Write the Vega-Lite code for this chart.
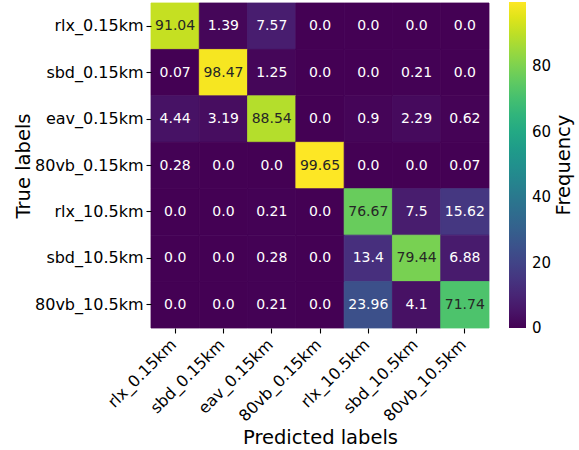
{
  "$schema": "https://vega.github.io/schema/vega-lite/v6.json",
  "width": 338,
  "height": 325,
  "autosize": "none",
  "padding": {"left": 151, "top": 3, "right": 90, "bottom": 122},
  "background": "white",
  "config": {
    "font": "DejaVu Sans",
    "view": {"stroke": null},
    "axis": {
      "labelFont": "DejaVu Sans",
      "titleFont": "DejaVu Sans",
      "labelFontSize": 16,
      "titleFontSize": 19.5,
      "labelColor": "#000000",
      "titleColor": "#000000",
      "tickColor": "#000000",
      "tickSize": 5,
      "tickWidth": 1.1,
      "domain": false,
      "grid": false,
      "titleFontWeight": "normal",
      "labelPadding": 3
    },
    "legend": {
      "labelFont": "DejaVu Sans",
      "titleFont": "DejaVu Sans",
      "labelFontSize": 15,
      "titleFontSize": 19.5,
      "labelColor": "#000000",
      "titleColor": "#000000",
      "titleFontWeight": "normal"
    }
  },
  "data": {
    "values": [
      {"t": "rlx_0.15km", "p": "rlx_0.15km", "v": 91.04, "label": "91.04"},
      {"t": "rlx_0.15km", "p": "sbd_0.15km", "v": 1.39, "label": "1.39"},
      {"t": "rlx_0.15km", "p": "eav_0.15km", "v": 7.57, "label": "7.57"},
      {"t": "rlx_0.15km", "p": "80vb_0.15km", "v": 0.0, "label": "0.0"},
      {"t": "rlx_0.15km", "p": "rlx_10.5km", "v": 0.0, "label": "0.0"},
      {"t": "rlx_0.15km", "p": "sbd_10.5km", "v": 0.0, "label": "0.0"},
      {"t": "rlx_0.15km", "p": "80vb_10.5km", "v": 0.0, "label": "0.0"},
      {"t": "sbd_0.15km", "p": "rlx_0.15km", "v": 0.07, "label": "0.07"},
      {"t": "sbd_0.15km", "p": "sbd_0.15km", "v": 98.47, "label": "98.47"},
      {"t": "sbd_0.15km", "p": "eav_0.15km", "v": 1.25, "label": "1.25"},
      {"t": "sbd_0.15km", "p": "80vb_0.15km", "v": 0.0, "label": "0.0"},
      {"t": "sbd_0.15km", "p": "rlx_10.5km", "v": 0.0, "label": "0.0"},
      {"t": "sbd_0.15km", "p": "sbd_10.5km", "v": 0.21, "label": "0.21"},
      {"t": "sbd_0.15km", "p": "80vb_10.5km", "v": 0.0, "label": "0.0"},
      {"t": "eav_0.15km", "p": "rlx_0.15km", "v": 4.44, "label": "4.44"},
      {"t": "eav_0.15km", "p": "sbd_0.15km", "v": 3.19, "label": "3.19"},
      {"t": "eav_0.15km", "p": "eav_0.15km", "v": 88.54, "label": "88.54"},
      {"t": "eav_0.15km", "p": "80vb_0.15km", "v": 0.0, "label": "0.0"},
      {"t": "eav_0.15km", "p": "rlx_10.5km", "v": 0.9, "label": "0.9"},
      {"t": "eav_0.15km", "p": "sbd_10.5km", "v": 2.29, "label": "2.29"},
      {"t": "eav_0.15km", "p": "80vb_10.5km", "v": 0.62, "label": "0.62"},
      {"t": "80vb_0.15km", "p": "rlx_0.15km", "v": 0.28, "label": "0.28"},
      {"t": "80vb_0.15km", "p": "sbd_0.15km", "v": 0.0, "label": "0.0"},
      {"t": "80vb_0.15km", "p": "eav_0.15km", "v": 0.0, "label": "0.0"},
      {"t": "80vb_0.15km", "p": "80vb_0.15km", "v": 99.65, "label": "99.65"},
      {"t": "80vb_0.15km", "p": "rlx_10.5km", "v": 0.0, "label": "0.0"},
      {"t": "80vb_0.15km", "p": "sbd_10.5km", "v": 0.0, "label": "0.0"},
      {"t": "80vb_0.15km", "p": "80vb_10.5km", "v": 0.07, "label": "0.07"},
      {"t": "rlx_10.5km", "p": "rlx_0.15km", "v": 0.0, "label": "0.0"},
      {"t": "rlx_10.5km", "p": "sbd_0.15km", "v": 0.0, "label": "0.0"},
      {"t": "rlx_10.5km", "p": "eav_0.15km", "v": 0.21, "label": "0.21"},
      {"t": "rlx_10.5km", "p": "80vb_0.15km", "v": 0.0, "label": "0.0"},
      {"t": "rlx_10.5km", "p": "rlx_10.5km", "v": 76.67, "label": "76.67"},
      {"t": "rlx_10.5km", "p": "sbd_10.5km", "v": 7.5, "label": "7.5"},
      {"t": "rlx_10.5km", "p": "80vb_10.5km", "v": 15.62, "label": "15.62"},
      {"t": "sbd_10.5km", "p": "rlx_0.15km", "v": 0.0, "label": "0.0"},
      {"t": "sbd_10.5km", "p": "sbd_0.15km", "v": 0.0, "label": "0.0"},
      {"t": "sbd_10.5km", "p": "eav_0.15km", "v": 0.28, "label": "0.28"},
      {"t": "sbd_10.5km", "p": "80vb_0.15km", "v": 0.0, "label": "0.0"},
      {"t": "sbd_10.5km", "p": "rlx_10.5km", "v": 13.4, "label": "13.4"},
      {"t": "sbd_10.5km", "p": "sbd_10.5km", "v": 79.44, "label": "79.44"},
      {"t": "sbd_10.5km", "p": "80vb_10.5km", "v": 6.88, "label": "6.88"},
      {"t": "80vb_10.5km", "p": "rlx_0.15km", "v": 0.0, "label": "0.0"},
      {"t": "80vb_10.5km", "p": "sbd_0.15km", "v": 0.0, "label": "0.0"},
      {"t": "80vb_10.5km", "p": "eav_0.15km", "v": 0.21, "label": "0.21"},
      {"t": "80vb_10.5km", "p": "80vb_0.15km", "v": 0.0, "label": "0.0"},
      {"t": "80vb_10.5km", "p": "rlx_10.5km", "v": 23.96, "label": "23.96"},
      {"t": "80vb_10.5km", "p": "sbd_10.5km", "v": 4.1, "label": "4.1"},
      {"t": "80vb_10.5km", "p": "80vb_10.5km", "v": 71.74, "label": "71.74"}
    ]
  },
  "encoding": {
    "x": {
      "field": "p", "type": "nominal",
      "sort": ["rlx_0.15km", "sbd_0.15km", "eav_0.15km", "80vb_0.15km", "rlx_10.5km", "sbd_10.5km", "80vb_10.5km"],
      "scale": {"paddingInner": 0, "paddingOuter": 0},
      "axis": {"title": "Predicted labels", "labelAngle": -45, "labelAlign": "right", "labelBaseline": "top", "labelOffset": -7, "titlePadding": 4}
    },
    "y": {
      "field": "t", "type": "nominal",
      "sort": ["rlx_0.15km", "sbd_0.15km", "eav_0.15km", "80vb_0.15km", "rlx_10.5km", "sbd_10.5km", "80vb_10.5km"],
      "scale": {"paddingInner": 0, "paddingOuter": 0},
      "axis": {"title": "True labels", "titlePadding": 1}
    }
  },
  "layer": [
    {
      "mark": {"type": "rect", "strokeWidth": 0.8, "stroke": {"expr": "scale('color', datum.v)"}},
      "encoding": {
        "color": {
          "field": "v", "type": "quantitative",
          "scale": {"scheme": "viridis", "domain": [0, 99.65], "nice": false},
          "legend": {
            "title": "Frequency",
            "orient": "none",
            "legendX": 358,
            "legendY": -1,
            "direction": "vertical",
            "gradientLength": 326,
            "gradientThickness": 17,
            "gradientStrokeWidth": 0,
            "values": [0, 20, 40, 60, 80],
            "labelOffset": 6,
            "titleOrient": "right",
            "titleAnchor": "middle",
            "titlePadding": 4,
            "encode": {
              "labels": {"update": {"baseline": {"value": "middle"}}},
              "title": {"update": {"angle": {"value": -90}, "baseline": {"value": "top"}}}
            }
          }
        }
      }
    },
    {
      "mark": {"type": "text", "fontSize": 14, "font": "DejaVu Sans"},
      "encoding": {
        "text": {"field": "label", "type": "nominal"},
        "color": {
          "condition": {"test": "datum.v > 50", "value": "#262626"},
          "value": "#ffffff"
        }
      }
    }
  ]
}
